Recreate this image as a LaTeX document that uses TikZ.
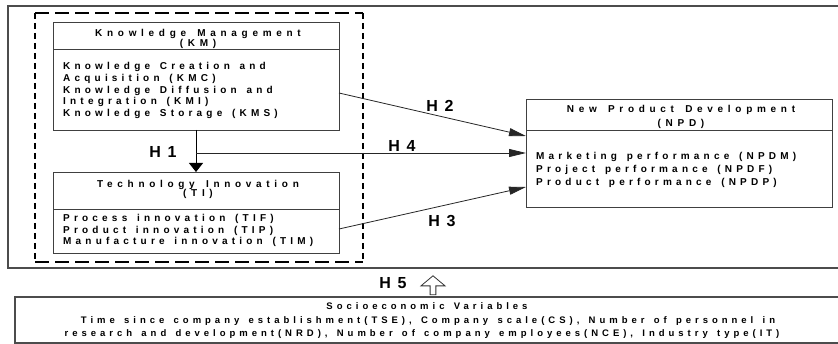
\documentclass[tikz,border=0pt]{standalone}
\usepackage{fontspec}
\setmainfont{Liberation Sans}
\newfontfamily\arb{Liberation Sans Bold}[LetterSpace=42, WordSpace=1.5]
\newfontfamily\arbt{Liberation Sans Bold}[LetterSpace=47, WordSpace=1.5]
\newfontfamily\arbs{Liberation Sans Bold}[LetterSpace=42, WordSpace=1.4]
\newfontfamily\arbh{Liberation Sans Bold}[LetterSpace=15]
\usetikzlibrary{arrows.meta,shapes.arrows,calc}
\begin{document}
\begin{tikzpicture}[x=1pt,y=-1pt,
  box/.style={draw=black!75, line width=0.9pt, inner sep=0pt, outer sep=0pt},
  ttl/.style={font=\arbt\fontsize{10}{11}\selectfont, inner sep=0pt, anchor=base},
  txt/.style={font=\arb\fontsize{10}{11}\selectfont, inner sep=0pt, anchor=base west},
  stxt/.style={font=\arbs\fontsize{9.5}{11}\selectfont, inner sep=0pt, anchor=base},
  hyp/.style={font=\arbh\fontsize{16}{16}\selectfont, inner sep=0pt},
  conn/.style={line width=0.8pt, draw=black!85, -{Triangle[length=17pt,width=8pt]}},
  dashh/.style={line width=1.8pt, dash pattern=on 14pt off 6pt},
  dashv/.style={line width=1.8pt, dash pattern=on 6pt off 4pt}]
\useasboundingbox (0,0) rectangle (838,344);
\clip (0,0) rectangle (838,344);
\fill[white] (0,0) rectangle (838,344);

% outer frame
\draw[draw=black!70, line width=1.1pt] (850,6) -- (8,6) -- (8,268) -- (850,268);

% dashed group
\draw[dashh] (35,13) -- (363,13);
\draw[dashh] (35,262) -- (363,262);
\draw[dashv] (35,13) -- (35,262);
\draw[dashv] (363,13) -- (363,262);

% Knowledge Management
\node[box, minimum width=286pt, minimum height=108pt] (km) at (196,76) {};
\draw[box] (km.west |- 0,49) -- (km.east |- 0,49);
\node[ttl] (kmt1) at (198,36.2) {Knowledge Management};
\node[ttl] (kmt2) at (198,46.8) {(KM)};
\node[txt] (kmb1) at (63,70.0) {Knowledge Creation and};
\node[txt] (kmb2) at (63,81.6) {Acquisition (KMC)};
\node[txt] (kmb3) at (63,93.2) {Knowledge Diffusion and};
\node[txt] (kmb4) at (63,104.8) {Integration (KMI)};
\node[txt] (kmb5) at (63,116.4) {Knowledge Storage (KMS)};

% Technology Innovation
\node[box, minimum width=286pt, minimum height=81pt] (ti) at (196,212.5) {};
\draw[box] (ti.west |- 0,209) -- (ti.east |- 0,209);
\node[ttl] (tit1) at (198,187.3) {Technology Innovation};
\node[ttl] (tit2) at (198,196.6) {(TI)};
\node[txt] (tib1) at (63,221.6) {Process innovation (TIF)};
\node[txt] (tib2) at (63,233.3) {Product innovation (TIP)};
\node[txt] (tib3) at (63,244.8) {Manufacture innovation (TIM)};

% New Product Development
\node[box, minimum width=306pt, minimum height=108pt] (npd) at (679,153) {};
\draw[box] (npd.west |- 0,130) -- (npd.east |- 0,130);
\node[ttl] (npdt1) at (681,112.1) {New Product Development};
\node[ttl] (npdt2) at (681,126.1) {(NPD)};
\node[txt] (npdb1) at (536,159.6) {Marketing performance (NPDM)};
\node[txt] (npdb2) at (536,172.6) {Project performance (NPDF)};
\node[txt] (npdb3) at (536,185.1) {Product performance (NPDP)};

% connectors
\draw[line width=0.9pt, -{Triangle[length=9pt,width=14pt]}] (km.south) -- (ti.north);
\coordinate (h4s) at (km.south |- npd.west);
\draw[conn] (h4s) -- (npd.west);
\draw[conn] ([yshift=-17pt]km.east) -- ([yshift=17pt]npd.west);
\draw[conn] ([yshift=-16.5pt]ti.east) -- ([yshift=-34pt]npd.west);

% hypothesis labels
\node[hyp] (h1) at (163,152) {H 1};
\node[hyp] (h2) at (440,106) {H 2};
\node[hyp] (h3) at (442,221.5) {H 3};
\node[hyp] (h4) at (402,146) {H 4};
\node[hyp] (h5) at (393,283) {H 5};
\node[single arrow, draw=black!80, line width=0.8pt, shape border rotate=90,
      minimum height=19pt, minimum width=24pt, single arrow head extend=6pt,
      single arrow tip angle=100, inner sep=1.5pt] (h5arrow) at (433,286.5) {};

% socioeconomic variables
\draw[draw=black!70, line width=1.1pt] (850,297) -- (15,297) -- (15,343) -- (850,343);
\node[stxt] (soc1) at (427,310) {Socioeconomic Variables};
\node[stxt] (soc2) at (428,323.5) {Time since company establishment(TSE), Company scale(CS), Number of personnel in};
\node[stxt] (soc3) at (422,337) {research and development(NRD), Number of company employees(NCE), Industry type(IT)};
\end{tikzpicture}
\end{document}
